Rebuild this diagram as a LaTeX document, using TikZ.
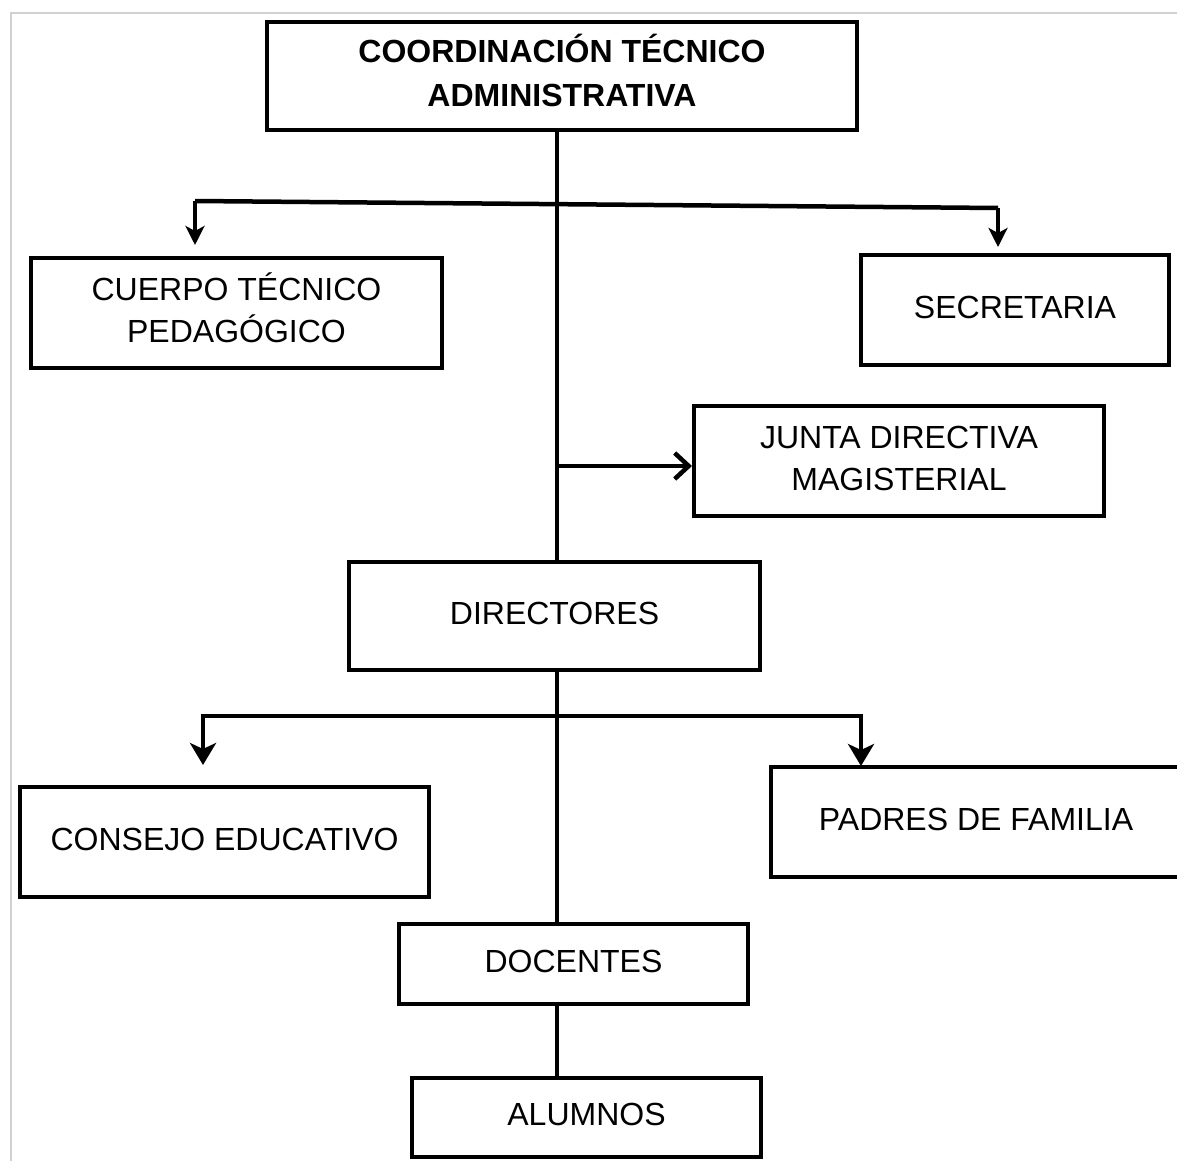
\documentclass[tikz,border=0pt]{standalone}
\usepackage{fontspec}
\setmainfont{Liberation Sans}
\usetikzlibrary{arrows.meta}
\newcommand{\liftText}[1]{\raisebox{4pt}{\begin{tabular}{@{}c@{}}#1\end{tabular}}}
\begin{document}
\begin{tikzpicture}[x=1pt,y=-1pt,
  box/.style={draw=black, line width=4pt, fill=white, inner sep=0pt, align=center,
    font=\fontsize{32}{42}\selectfont},
  link/.style={line width=4.5pt, draw=black},
  darrsmall/.style={link, -{Stealth[length=19pt,width=19pt,inset=5pt]}},
  darrbig/.style={link, -{Stealth[length=22pt,width=26pt,inset=6pt]}},
  rarr/.style={link, -{Straight Barb[length=14pt,width=26pt,line width=4.5pt]}},
  frameline/.style={draw=black!18, line width=2pt}]
\useasboundingbox (0,0) rectangle (1177,1161);
\draw[frameline] (11,1161) -- (11,13) -- (1177,13);

\node[box, minimum width=590pt, minimum height=108pt, font=\bfseries\fontsize{32}{44}\selectfont] (top) at (562,76) {\liftText{COORDINACIÓN TÉCNICO\\ADMINISTRATIVA}};
\node[box, minimum width=411pt, minimum height=110pt] (cuerpo) at (236.5,313) {\liftText{CUERPO TÉCNICO\\PEDAGÓGICO}};
\node[box, minimum width=308pt, minimum height=110pt] (secre) at (1015,310) {\liftText{SECRETARIA}};
\node[box, minimum width=410pt, minimum height=110pt] (junta) at (899,461) {\liftText{JUNTA DIRECTIVA\\MAGISTERIAL}};
\node[box, minimum width=411pt, minimum height=108pt] (dir) at (554.5,616) {\liftText{DIRECTORES}};
\node[box, minimum width=409pt, minimum height=110pt] (consejo) at (224.5,842) {\liftText{CONSEJO EDUCATIVO}};
\node[box, minimum width=410pt, minimum height=110pt] (padres) at (976,822) {\liftText{PADRES DE FAMILIA}};
\node[box, minimum width=349pt, minimum height=80pt] (doc) at (573.5,964) {\liftText{DOCENTES}};
\node[box, minimum width=349pt, minimum height=79pt] (alum) at (586.5,1117.5) {\liftText{ALUMNOS}};

% branch coordinates
\coordinate (spine) at (557,206);
\coordinate (b1l) at (195,201);
\coordinate (b1r) at (998,208);
\coordinate (c1) at (195,245);
\coordinate (c2) at (998,247);
\coordinate (s2) at (557,466);
\coordinate (s3) at (557,716);
\coordinate (c3) at (203,765);
\coordinate (c4) at (861,766);

\draw[link] (top.south -| spine) -- (dir.north -| spine);
\draw[link] (dir.south -| spine) -- (doc.north -| spine);
\draw[link] (doc.south -| spine) -- (alum.north -| spine);

\draw[link] (b1l) -- (b1r);
\draw[darrsmall] (b1l) -- (c1);
\draw[darrsmall] (b1r) -- (c2);
\draw[rarr] (s2) -- (junta.west |- s2);
\draw[darrbig] (s3) -| (c3);
\draw[darrbig] (s3) -| (c4);
\end{tikzpicture}
\end{document}
